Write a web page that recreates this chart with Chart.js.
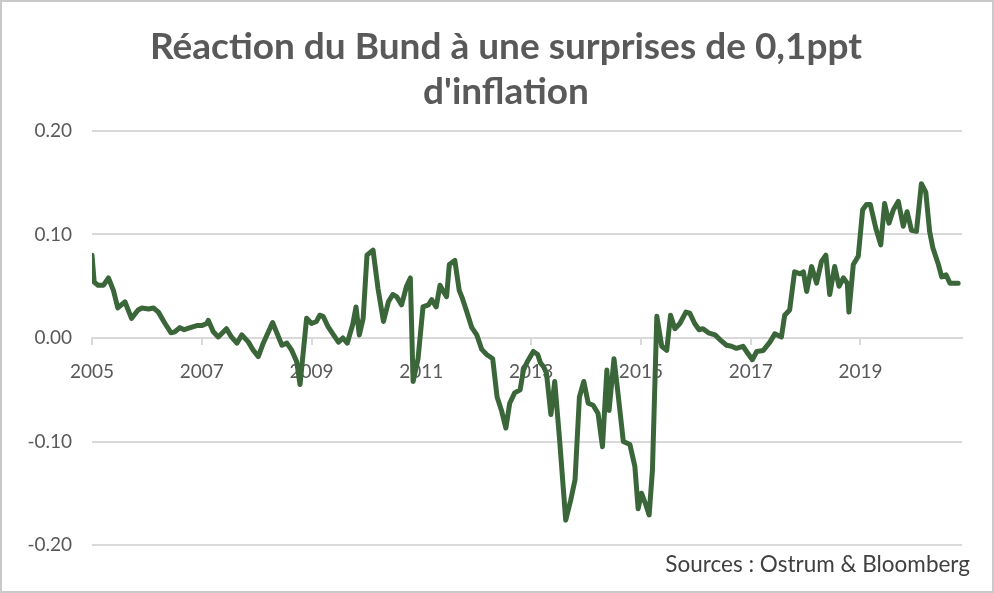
<!DOCTYPE html>
<html lang="fr">
<head>
<meta charset="utf-8">
<title>Réaction du Bund</title>
<script src="https://cdn.jsdelivr.net/npm/chart.js@4.4.1/dist/chart.umd.min.js"></script>
<style>
    body { margin: 0; background: #ffffff; }
    #wrap { position: relative; width: 994px; height: 593px; }
    #frame {
        position: absolute; left: 0; top: 0; width: 994px; height: 593px;
        box-sizing: border-box; border: 2px solid #c9c9c9; pointer-events: none;
    }
    #title {
        position: absolute; left: 18px; width: 976px; top: 22px;
        text-align: center; font-family: Lato, sans-serif; font-weight: bold;
        font-size: 37px; line-height: 45px; color: #595959;
    }
    #source {
        position: absolute; right: 24px; top: 550px;
        font-family: Lato, sans-serif; font-size: 22.5px; color: #404040;
    }
</style>
</head>
<body>
<div id="wrap">
    <canvas id="bundChart"></canvas>
    <div id="title"></div>
    <div id="source">Sources : Ostrum &amp; Bloomberg</div>
    <div id="frame"></div>
</div>
<script>
// Values (date as fractional year, reaction in pp)
const years = [
    2005.00, 2005.04, 2005.11, 2005.21, 2005.30, 2005.39, 2005.47, 2005.60, 2005.72, 2005.84,
    2005.91, 2006.03, 2006.12, 2006.21, 2006.33, 2006.44, 2006.51, 2006.60, 2006.68, 2006.79,
    2006.91, 2007.00, 2007.09, 2007.12, 2007.21, 2007.30, 2007.45, 2007.54, 2007.64, 2007.73,
    2007.85, 2007.94, 2008.03, 2008.12, 2008.29, 2008.46, 2008.55, 2008.64, 2008.73, 2008.79,
    2008.91, 2009.00, 2009.09, 2009.15, 2009.21, 2009.30, 2009.40, 2009.49, 2009.57, 2009.65,
    2009.75, 2009.81, 2009.87, 2009.94, 2010.01, 2010.12, 2010.21, 2010.31, 2010.40, 2010.48,
    2010.55, 2010.64, 2010.73, 2010.80, 2010.85, 2010.94, 2011.03, 2011.13, 2011.19, 2011.27,
    2011.34, 2011.40, 2011.46, 2011.51, 2011.61, 2011.69, 2011.75, 2011.83, 2011.92, 2012.01,
    2012.10, 2012.19, 2012.30, 2012.38, 2012.46, 2012.54, 2012.61, 2012.70, 2012.80, 2012.86,
    2012.93, 2013.04, 2013.12, 2013.17, 2013.23, 2013.28, 2013.36, 2013.43, 2013.52, 2013.63,
    2013.72, 2013.80, 2013.88, 2013.96, 2014.04, 2014.13, 2014.22, 2014.30, 2014.38, 2014.42,
    2014.51, 2014.59, 2014.68, 2014.80, 2014.89, 2014.95, 2015.01, 2015.09, 2015.15, 2015.21,
    2015.29, 2015.38, 2015.47, 2015.54, 2015.62, 2015.71, 2015.82, 2015.89, 2015.98, 2016.06,
    2016.13, 2016.23, 2016.35, 2016.45, 2016.56, 2016.65, 2016.74, 2016.86, 2016.95, 2017.03,
    2017.11, 2017.23, 2017.35, 2017.44, 2017.56, 2017.62, 2017.71, 2017.80, 2017.90, 2017.96,
    2018.02, 2018.11, 2018.20, 2018.29, 2018.37, 2018.44, 2018.53, 2018.61, 2018.69, 2018.76,
    2018.79, 2018.87, 2018.96, 2019.04, 2019.11, 2019.18, 2019.28, 2019.37, 2019.44, 2019.52,
    2019.60, 2019.69, 2019.78, 2019.85, 2019.93, 2020.02, 2020.11, 2020.19, 2020.26, 2020.32,
    2020.42, 2020.48, 2020.56, 2020.63, 2020.78
];
const reaction = [
    0.080, 0.054, 0.051, 0.051, 0.058, 0.046, 0.029, 0.035, 0.019, 0.027,
    0.029, 0.028, 0.029, 0.025, 0.014, 0.005, 0.006, 0.010, 0.008, 0.010,
    0.012, 0.012, 0.014, 0.017, 0.006, 0.001, 0.009, 0.001, -0.005, 0.003,
    -0.004, -0.012, -0.018, -0.005, 0.015, -0.007, -0.005, -0.012, -0.023, -0.045,
    0.019, 0.014, 0.016, 0.022, 0.021, 0.011, 0.003, -0.004, 0.000, -0.005,
    0.013, 0.030, 0.003, 0.019, 0.080, 0.085, 0.048, 0.016, 0.035, 0.042,
    0.040, 0.032, 0.050, 0.058, -0.042, -0.020, 0.030, 0.032, 0.037, 0.030,
    0.051, 0.045, 0.040, 0.071, 0.075, 0.046, 0.038, 0.025, 0.010, 0.003,
    -0.011, -0.016, -0.020, -0.057, -0.070, -0.087, -0.063, -0.053, -0.050, -0.031,
    -0.023, -0.013, -0.016, -0.024, -0.028, -0.034, -0.074, -0.042, -0.099, -0.176,
    -0.157, -0.137, -0.057, -0.042, -0.063, -0.065, -0.073, -0.105, -0.031, -0.070,
    -0.020, -0.057, -0.100, -0.103, -0.124, -0.165, -0.150, -0.161, -0.171, -0.128,
    0.021, -0.008, -0.012, 0.022, 0.009, 0.014, 0.025, 0.024, 0.014, 0.008,
    0.009, 0.005, 0.003, -0.002, -0.007, -0.008, -0.010, -0.008, -0.015, -0.021,
    -0.013, -0.012, -0.004, 0.004, 0.001, 0.022, 0.027, 0.064, 0.062, 0.064,
    0.045, 0.069, 0.053, 0.074, 0.080, 0.042, 0.069, 0.050, 0.058, 0.053,
    0.025, 0.071, 0.079, 0.124, 0.129, 0.129, 0.106, 0.090, 0.130, 0.111,
    0.124, 0.132, 0.108, 0.122, 0.104, 0.103, 0.149, 0.141, 0.103, 0.087,
    0.071, 0.059, 0.061, 0.053, 0.053
];
const yearTicks = [2005, 2007, 2009, 2011, 2013, 2015, 2017, 2019];
const titleLines = ["Réaction du Bund à une surprises de 0,1ppt", "d'inflation"];

const FONT = 'Lato, "Open Sans", sans-serif';
const GRID = '#d9d9d9';
const TEXT = '#595959';

document.addEventListener('DOMContentLoaded', function() {
    // Title as page text, one line per entry
    const titleEl = document.getElementById('title');
    titleLines.forEach(line => {
        const div = document.createElement('div');
        div.textContent = line;
        titleEl.appendChild(div);
    });

    const ctx = document.getElementById('bundChart');
    const points = years.map((x, i) => ({ x: x, y: reaction[i] }));

    const config = {
        type: 'line',
        data: {
            datasets: [{
                label: 'Réaction du Bund',
                data: points,
                borderColor: '#3a663a',
                borderWidth: 5,
                borderJoinStyle: 'round',
                borderCapStyle: 'round',
                pointRadius: 0,
                tension: 0,
                fill: false
            }]
        },
        options: {
            responsive: true,
            maintainAspectRatio: false,
            animation: false,
            layout: {
                padding: { left: 0, right: 32, top: 131, bottom: 48 }
            },
            plugins: {
                legend: { display: false },
                tooltip: { enabled: false },
                title: { display: false }
            },
            scales: {
                x: {
                    type: 'linear',
                    position: { y: 0 },
                    min: 2005,
                    max: 2020.85,
                    afterBuildTicks: function(scale) {
                        scale.ticks = yearTicks.map(v => ({ value: v }));
                    },
                    grid: {
                        drawOnChartArea: false,
                        drawTicks: true,
                        tickLength: 6,
                        color: GRID,
                        lineWidth: 2
                    },
                    border: { display: true, color: GRID, width: 2 },
                    ticks: {
                        color: TEXT,
                        padding: 16,
                        maxRotation: 0,
                        font: { family: FONT, size: 19 },
                        callback: function(value) { return String(value); }
                    }
                },
                y: {
                    min: -0.2,
                    max: 0.2,
                    afterFit: function(scale) { scale.width = 92; },
                    grid: {
                        color: GRID,
                        lineWidth: 2,
                        drawTicks: false
                    },
                    border: { display: false },
                    ticks: {
                        stepSize: 0.1,
                        color: TEXT,
                        padding: 20,
                        font: { family: FONT, size: 19 },
                        callback: function(value) { return value.toFixed(2); }
                    }
                }
            }
        }
    };

    try {
        new Chart(ctx, config);
    } catch (error) {
        console.error('Error initializing chart:', error);
    }
});
</script>
</body>
</html>
